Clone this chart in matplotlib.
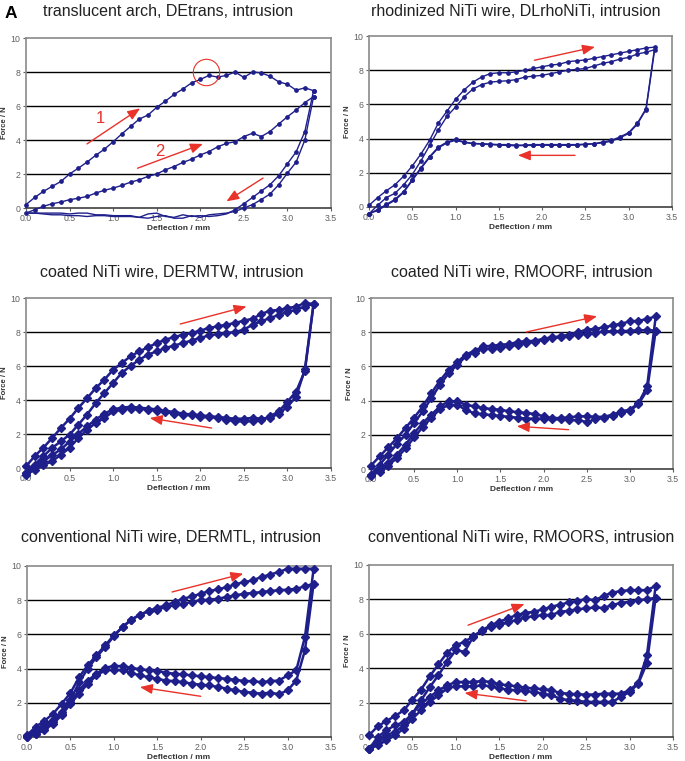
import matplotlib
matplotlib.use("Agg")
import matplotlib.pyplot as plt

plt.rcParams['font.family'] = ['Liberation Sans', 'DejaVu Sans']

# ---------------- data ----------------
defl_up = [0.0, 0.1, 0.2, 0.3, 0.4, 0.5, 0.6, 0.7, 0.8, 0.9, 1.0, 1.1, 1.2, 1.3, 1.4, 1.5, 1.6,
           1.7, 1.8, 1.9, 2.0, 2.1, 2.2, 2.3, 2.4, 2.5, 2.6, 2.7, 2.8, 2.9, 3.0, 3.1, 3.2, 3.3]
defl_down = [3.2, 3.1, 3.0, 2.9, 2.8, 2.7, 2.6, 2.5, 2.4, 2.3, 2.2, 2.1, 2.0, 1.9, 1.8, 1.7, 1.6,
             1.5, 1.4, 1.3, 1.2, 1.1, 1.0, 0.9, 0.8, 0.7, 0.6, 0.5, 0.4, 0.3, 0.2, 0.1, 0.0]

titles = ["translucent arch, DEtrans, intrusion",
          "rhodinized NiTi wire, DLrhoNiTi, intrusion",
          "coated NiTi wire, DERMTW, intrusion",
          "coated NiTi wire, RMOORF, intrusion",
          "conventional NiTi wire, DERMTL, intrusion",
          "conventional NiTi wire, RMOORS, intrusion"]
x_ticks = [0.0, 0.5, 1.0, 1.5, 2.0, 2.5, 3.0, 3.5]
x_ticklabels = ["0.0", "0.5", "1.0", "1.5", "2.0", "2.5", "3.0", "3.5"]
y_ticks = [0, 2, 4, 6, 8, 10]
y_ticklabels = ["0", "2", "4", "6", "8", "10"]

# Panel 1: DEtrans
p1_load1 = [0.2, 0.62, 0.98, 1.27, 1.56, 2.0, 2.34, 2.7, 3.1, 3.46, 3.9, 4.36, 4.8, 5.23, 5.47, 5.92,
            6.29, 6.68, 7.0, 7.36, 7.56, 7.8, 7.7, 7.8, 8.0, 7.68, 8.0, 7.95, 7.75, 7.42, 7.28, 6.93,
            7.07, 6.9]
p1_load2 = [-0.3, -0.1, 0.1, 0.25, 0.35, 0.49, 0.57, 0.68, 0.88, 1.04, 1.17, 1.33, 1.52, 1.66, 1.86,
            2.0, 2.25, 2.44, 2.68, 2.87, 3.12, 3.32, 3.6, 3.8, 3.9, 4.2, 4.4, 4.2, 4.5, 4.94, 5.37,
            5.76, 6.2, 6.55]
p1_unl_x = [3.3, 3.2, 3.1, 3.0, 2.9, 2.8, 2.7, 2.6, 2.5, 2.4]
p1_unl1 = [6.9, 4.5, 3.3, 2.6, 1.9, 1.37, 1.0, 0.62, 0.25, -0.1]
p1_unl2 = [6.55, 4.0, 2.7, 2.05, 1.37, 0.82, 0.5, 0.2, 0.0, -0.2]
p1_base_x = [2.4, 2.3, 2.2, 2.1, 2.0, 1.9, 1.8, 1.7, 1.6, 1.5, 1.4, 1.3, 1.2, 1.1, 1.0, 0.9, 0.8,
             0.7, 0.6, 0.5, 0.4, 0.3, 0.2, 0.1, 0.0]
p1_base1 = [-0.1, -0.35, -0.45, -0.5, -0.45, -0.5, -0.4, -0.55, -0.5, -0.3, -0.35, -0.55, -0.45,
            -0.45, -0.45, -0.4, -0.4, -0.3, -0.3, -0.35, -0.3, -0.3, -0.3, -0.3, -0.3]
p1_base2 = [-0.2, -0.3, -0.35, -0.4, -0.55, -0.45, -0.6, -0.6, -0.45, -0.5, -0.6, -0.55, -0.5,
            -0.5, -0.5, -0.45, -0.45, -0.5, -0.45, -0.45, -0.4, -0.4, -0.35, -0.3, -0.3]

# Panel 2: DLrhoNiTi
p2_upA = [0.1, 0.55, 0.95, 1.3, 1.8, 2.4, 3.1, 3.9, 4.9, 5.6, 6.3, 6.85, 7.3, 7.6, 7.8, 7.85, 7.85,
          7.9, 8.0, 8.1, 8.2, 8.3, 8.35, 8.5, 8.55, 8.6, 8.7, 8.8, 8.9, 9.0, 9.1, 9.2, 9.3, 9.35]
p2_upB = [-0.4, 0.1, 0.55, 0.8, 1.3, 1.9, 2.7, 3.6, 4.5, 5.3, 5.85, 6.45, 6.9, 7.15, 7.3, 7.35, 7.38,
          7.45, 7.6, 7.65, 7.7, 7.8, 7.9, 8.0, 8.05, 8.1, 8.25, 8.4, 8.5, 8.65, 8.75, 8.95, 9.05, 9.2]
p2_dnA = [5.75, 4.9, 4.35, 4.1, 3.9, 3.8, 3.7, 3.68, 3.65, 3.65, 3.65, 3.65, 3.65, 3.65, 3.62, 3.62,
          3.65, 3.65, 3.68, 3.7, 3.72, 3.8, 3.95, 3.8, 3.5, 2.95, 2.3, 1.6, 0.9, 0.45, 0.15, -0.15, -0.4]
p2_dnB = [5.7, 4.85, 4.3, 4.05, 3.85, 3.75, 3.7, 3.65, 3.62, 3.6, 3.62, 3.6, 3.62, 3.6, 3.6, 3.58,
          3.6, 3.62, 3.65, 3.68, 3.7, 3.78, 3.9, 3.75, 3.45, 2.9, 2.25, 1.55, 0.85, 0.4, 0.1, -0.2, -0.4]

# Panel 3: DERMTW
p3_upA = [0.1, 0.7, 1.2, 1.76, 2.35, 2.9, 3.53, 4.1, 4.7, 5.2, 5.78, 6.18, 6.57, 6.86, 7.1, 7.35,
          7.55, 7.7, 7.84, 7.94, 8.08, 8.24, 8.33, 8.43, 8.53, 8.67, 8.78, 9.06, 9.25, 9.3, 9.4, 9.5,
          9.7, 9.65]
p3_upB = [-0.3, 0.2, 0.7, 1.18, 1.57, 1.96, 2.55, 3.14, 3.82, 4.41, 5.0, 5.6, 6.0, 6.37, 6.67, 6.86,
          7.06, 7.2, 7.35, 7.5, 7.65, 7.8, 7.88, 7.94, 8.0, 8.14, 8.43, 8.63, 8.82, 9.0, 9.18, 9.3,
          9.5, 9.65]
p3_dnA = [5.7, 4.5, 3.9, 3.33, 3.04, 2.84, 2.75, 2.75, 2.75, 2.84, 2.94, 3.0, 3.0, 3.1, 3.14, 3.18,
          3.3, 3.37, 3.43, 3.5, 3.5, 3.43, 3.33, 2.94, 2.65, 2.25, 1.76, 1.18, 0.78, 0.4, 0.16, -0.1, -0.4]
p3_dnB = [5.8, 4.2, 3.6, 3.2, 2.95, 2.9, 2.95, 2.9, 2.9, 2.95, 3.0, 3.05, 3.1, 3.15, 3.2, 3.3, 3.35,
          3.45, 3.5, 3.55, 3.6, 3.55, 3.45, 3.2, 2.85, 2.45, 2.0, 1.55, 1.1, 0.75, 0.4, 0.1, -0.3]

# Panel 4: RMOORF
p4_upA = [0.2, 0.74, 1.27, 1.8, 2.4, 3.0, 3.66, 4.44, 5.17, 5.8, 6.26, 6.69, 6.92, 7.17, 7.2, 7.27,
          7.3, 7.43, 7.47, 7.5, 7.62, 7.7, 7.76, 7.86, 8.0, 8.15, 8.2, 8.28, 8.4, 8.5, 8.63, 8.67,
          8.77, 8.93]
p4_upB = [-0.33, 0.25, 0.84, 1.46, 2.0, 2.7, 3.37, 4.15, 4.93, 5.6, 6.1, 6.59, 6.8, 7.04, 7.04,
          7.07, 7.17, 7.27, 7.37, 7.43, 7.56, 7.66, 7.7, 7.8, 7.86, 7.9, 7.95, 8.05, 8.05, 8.05,
          8.09, 8.1, 8.13, 8.09]
p4_dnA = [4.83, 3.86, 3.47, 3.37, 3.18, 3.05, 3.05, 3.08, 3.08, 3.02, 2.98, 2.98, 3.08, 3.22, 3.27,
          3.33, 3.37, 3.47, 3.5, 3.57, 3.66, 3.76, 3.96, 3.96, 3.66, 3.18, 2.69, 2.1, 1.42, 0.84,
          0.35, -0.04, -0.33]
p4_dnB = [4.6, 3.8, 3.4, 3.3, 3.1, 3.0, 2.9, 2.75, 2.85, 2.88, 2.9, 2.92, 2.95, 2.95, 2.95, 3.0,
          3.05, 3.1, 3.15, 3.2, 3.25, 3.45, 3.75, 3.75, 3.5, 3.0, 2.45, 1.85, 1.2, 0.65, 0.2, -0.15, -0.4]

# Panel 5: DERMTL
p5_upA = [0.1, 0.6, 0.94, 1.36, 1.95, 2.57, 3.5, 4.2, 4.78, 5.36, 5.95, 6.43, 6.86, 7.15, 7.37,
          7.56, 7.7, 7.9, 8.09, 8.22, 8.38, 8.54, 8.63, 8.77, 8.93, 9.06, 9.16, 9.36, 9.5, 9.65,
          9.84, 9.84, 9.84, 9.84]
p5_upB = [0.04, 0.4, 0.68, 0.97, 1.46, 2.14, 3.2, 4.0, 4.68, 5.26, 5.9, 6.43, 6.86, 7.15, 7.37,
          7.45, 7.6, 7.7, 7.8, 7.9, 8.0, 8.03, 8.09, 8.19, 8.28, 8.38, 8.42, 8.48, 8.54, 8.58, 8.62,
          8.67, 8.81, 8.97]
p5_dnA = [5.85, 3.9, 3.6, 3.3, 3.27, 3.2, 3.27, 3.27, 3.35, 3.4, 3.45, 3.5, 3.55, 3.6, 3.66, 3.7,
          3.76, 3.86, 3.9, 3.96, 4.05, 4.15, 4.15, 4.05, 3.7, 3.3, 2.73, 2.05, 1.36, 0.88, 0.5, 0.2, 0.0]
p5_dnB = [5.07, 3.3, 2.73, 2.5, 2.6, 2.53, 2.6, 2.63, 2.73, 2.83, 2.92, 3.02, 3.06, 3.12, 3.2, 3.27,
          3.3, 3.4, 3.5, 3.6, 3.74, 3.9, 3.94, 3.9, 3.6, 3.12, 2.53, 1.95, 1.27, 0.78, 0.4, 0.15, 0.0]

# Panel 6: RMOORS
p6_upA = [0.1, 0.62, 0.93, 1.22, 1.55, 2.17, 2.76, 3.53, 4.23, 4.9, 5.34, 5.53, 5.86, 6.2, 6.5,
          6.7, 6.9, 7.09, 7.22, 7.28, 7.42, 7.57, 7.7, 7.82, 7.92, 8.0, 7.96, 8.2, 8.4, 8.48, 8.54,
          8.54, 8.54, 8.78]
p6_upB = [-0.7, 0.0, 0.39, 0.68, 0.87, 1.36, 2.14, 2.9, 3.6, 4.37, 5.05, 4.95, 5.83, 6.17, 6.4,
          6.5, 6.66, 6.8, 6.95, 7.03, 7.09, 7.09, 7.28, 7.34, 7.42, 7.48, 7.53, 7.5, 7.67, 7.8, 7.86,
          7.96, 8.0, 8.1]
p6_dnA = [4.76, 3.15, 2.72, 2.52, 2.52, 2.52, 2.47, 2.47, 2.48, 2.52, 2.56, 2.72, 2.78, 2.82, 2.87,
          2.95, 3.0, 3.07, 3.2, 3.26, 3.2, 3.2, 3.2, 3.0, 2.72, 2.33, 1.94, 1.36, 0.68, 0.29, 0.1,
          -0.3, -0.7]
p6_dnB = [4.3, 3.1, 2.62, 2.33, 2.04, 2.04, 2.04, 2.04, 2.1, 2.14, 2.23, 2.43, 2.52, 2.62, 2.68,
          2.72, 2.76, 2.82, 2.95, 3.0, 2.95, 2.95, 2.95, 2.82, 2.43, 2.04, 1.55, 1.07, 0.49, 0.1,
          -0.2, -0.48, -0.7]

# ---------------- figure ----------------
W, H = 685, 761
fig = plt.figure(figsize=(W / 100, H / 100), dpi=100)
fig.patch.set_facecolor('white')

NAVY = '#1f1f8c'
RED = '#e8322a'

# pixel boxes: left, top, right, bottom
boxes = [(26, 38, 331, 208), (369, 36, 672, 207),
         (26, 298, 331, 468), (371, 298, 673, 469),
         (27, 566, 331, 737), (369, 565, 673, 737)]
title_pos = [(168, 11), (516, 11), (172, 272), (522, 272), (171, 538), (521, 537)]


def make_ax(i):
    l, t, r, b = boxes[i]
    ax = fig.add_axes([l / W, 1 - b / H, (r - l) / W, (b - t) / H])
    ax.set_xlim(0, 3.5)
    ax.set_ylim(0, 10)
    ax.set_xticks(x_ticks)
    ax.set_xticklabels(x_ticklabels)
    ax.set_yticks(y_ticks)
    ax.set_yticklabels(y_ticklabels)
    ax.tick_params(labelsize=6.3, colors='#606060', length=2.5, width=0.8, pad=1.5)
    for s in ['left', 'top', 'right']:
        ax.spines[s].set_color('#8a8a8a')
        ax.spines[s].set_linewidth(1.2)
    ax.spines['bottom'].set_color('#404040')
    ax.spines['bottom'].set_linewidth(1.2)
    for yv in y_ticks[1:-1]:
        ax.axhline(yv, color='black', lw=1.0, zorder=1)
    ax.set_xlabel('Deflection / mm', fontsize=6, fontweight='bold', color='#333333', labelpad=1.5)
    ax.set_ylabel('Force / N', fontsize=5.5, fontweight='bold', color='#333333', labelpad=1.5)
    tx, ty = title_pos[i]
    fig.text(tx / W, 1 - ty / H, titles[i], ha='center', va='center', fontsize=11.5, color='#222222')
    return ax


def curve(ax, xs, ys, small):
    if small:
        ax.plot(xs, ys, color=NAVY, lw=1.0, marker='o', ms=2.4, clip_on=False, zorder=3)
    else:
        ax.plot(xs, ys, color=NAVY, lw=1.8, marker='D', ms=4.0, clip_on=False, zorder=3)


def arrow(ax, x0, y0, x1, y1):
    ax.annotate('', xy=(x1, y1), xytext=(x0, y0),
                arrowprops=dict(arrowstyle='-|>,head_length=0.75,head_width=0.3', color=RED, lw=1.0,
                                shrinkA=0, shrinkB=0), annotation_clip=False, zorder=5)


# Panel 1
ax = make_ax(0)
curve(ax, defl_up, p1_load1, True)
curve(ax, defl_up, p1_load2, True)
curve(ax, p1_unl_x, p1_unl1, True)
curve(ax, p1_unl_x, p1_unl2, True)
ax.plot(p1_base_x, p1_base1, color=NAVY, lw=1.0, clip_on=False, zorder=3)
ax.plot(p1_base_x, p1_base2, color=NAVY, lw=1.0, clip_on=False, zorder=3)
arrow(ax, 0.70, 3.77, 1.31, 5.86)
arrow(ax, 1.28, 2.34, 2.03, 3.77)
arrow(ax, 2.72, 1.76, 2.30, 0.39)
ax.text(0.85, 5.27, '1', color=RED, fontsize=12, ha='center', va='center')
ax.text(1.54, 3.32, '2', color=RED, fontsize=12, ha='center', va='center')
ax.plot([2.06], [8.0], marker='o', ms=19, mfc='none', mec=RED, mew=0.8, zorder=6)
fig.text(5 / W, 1 - 13 / H, 'A', fontsize=12.5, fontweight='bold', ha='left', va='center')

# Panel 2
ax = make_ax(1)
curve(ax, defl_up + defl_down, p2_upA + p2_dnA, True)
curve(ax, defl_up + defl_down, p2_upB + p2_dnB, True)
arrow(ax, 1.91, 8.58, 2.61, 9.36)
arrow(ax, 2.38, 3.02, 1.72, 3.02)

# Panel 3
ax = make_ax(2)
curve(ax, defl_up + defl_down, p3_upA + p3_dnA, False)
curve(ax, defl_up + defl_down, p3_upB + p3_dnB, False)
arrow(ax, 1.77, 8.47, 2.53, 9.5)
arrow(ax, 2.13, 2.35, 1.42, 2.94)

# Panel 4
ax = make_ax(3)
curve(ax, defl_up + defl_down, p4_upA + p4_dnA, False)
curve(ax, defl_up + defl_down, p4_upB + p4_dnB, False)
arrow(ax, 1.80, 8.01, 2.62, 8.93)
arrow(ax, 2.29, 2.30, 1.69, 2.50)

# Panel 5
ax = make_ax(4)
curve(ax, defl_up + defl_down, p5_upA + p5_dnA, False)
curve(ax, defl_up + defl_down, p5_upB + p5_dnB, False)
arrow(ax, 1.67, 8.48, 2.49, 9.55)
arrow(ax, 2.00, 2.38, 1.30, 2.92)

# Panel 6
ax = make_ax(5)
curve(ax, defl_up + defl_down, p6_upA + p6_dnA, False)
curve(ax, defl_up + defl_down, p6_upB + p6_dnB, False)
arrow(ax, 1.14, 6.50, 1.79, 7.73)
arrow(ax, 1.81, 2.10, 1.10, 2.56)

fig.savefig('out.png', dpi=100)
